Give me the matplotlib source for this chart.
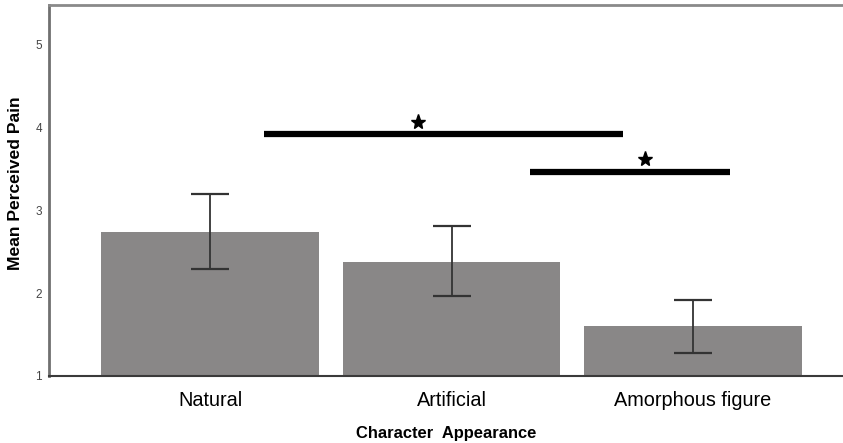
import numpy as np
import matplotlib.pyplot as plt

plt.rcParams['font.family'] = ['Liberation Sans', 'DejaVu Sans']

categories = ['Natural', 'Artificial', 'Amorphous figure']
means = [2.74, 2.37, 1.60]
err_low = [2.29, 1.96, 1.28]
err_high = [3.19, 2.81, 1.92]

# significance brackets: (x start, x end, y level, star x, star y)
sig_x0 = [0.225, 1.325]
sig_x1 = [1.711, 2.153]
sig_y = [3.91, 3.46]
star_x = [0.86, 1.80]
star_y = [4.06, 3.62]

x = np.arange(len(categories))
means = np.array(means)
yerr = [means - np.array(err_low), np.array(err_high) - means]

fig = plt.figure(figsize=(8.43, 4.43), dpi=100)
ax = fig.add_axes([49 / 843, 67 / 443, 1 - 49 / 843, 371 / 443])

ax.bar(x, means - 1, bottom=1, width=0.9, color='#898787', zorder=2)
ax.errorbar(x, means, yerr=yerr, fmt='none', ecolor='#333333',
            elinewidth=1.3, capsize=14, capthick=1.6, zorder=3)

for i in range(len(sig_y)):
    ax.plot([sig_x0[i], sig_x1[i]], [sig_y[i], sig_y[i]], color='black',
            linewidth=4.5, solid_capstyle='butt', zorder=4)
    ax.plot(star_x[i], star_y[i], marker='*', color='black',
            markersize=11, zorder=4)

ax.set_xlim(-0.667, 2.617 + 0.004)
ax.set_ylim(1, 5.47)
ax.set_yticks([1, 2, 3, 4, 5])
ax.set_yticklabels(['1', '2', '3', '4', '5'], fontsize=8.5, color='#444444')
ax.tick_params(axis='y', length=0, pad=5)
ax.set_xticks(x)
ax.set_xticklabels(categories, fontsize=14.3)
ax.tick_params(axis='x', length=0, pad=11)

ax.spines['right'].set_visible(False)
ax.spines['left'].set_color('#707070')
ax.spines['top'].set_color('#8a8a8a')
ax.spines['left'].set_linewidth(2)
ax.spines['top'].set_linewidth(2)
ax.spines['bottom'].set_color('#3a3a3a')
ax.spines['bottom'].set_linewidth(1.5)

ax.set_xlabel('Character  Appearance', fontsize=11.9, fontweight='bold', labelpad=11)
ax.set_ylabel('Mean Perceived Pain', fontsize=12.6, fontweight='bold')
ax.yaxis.set_label_coords(-0.033, 0.52)

fig.savefig('out.png', dpi=100)
